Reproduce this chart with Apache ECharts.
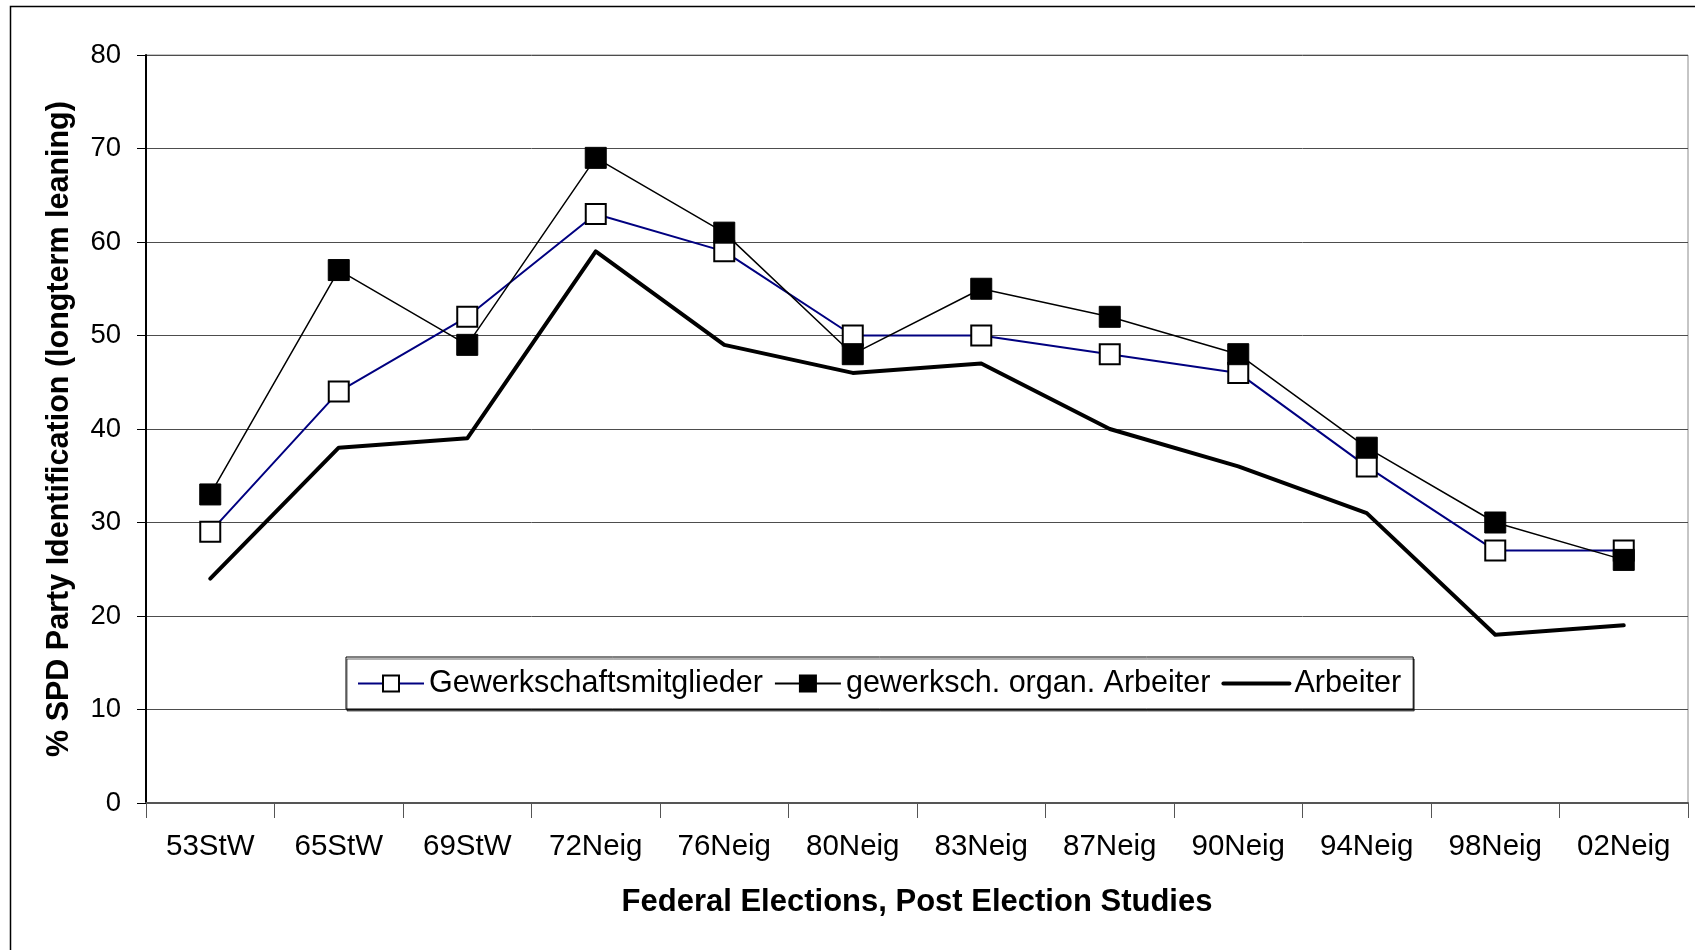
<!DOCTYPE html>
<html>
<head>
<meta charset="utf-8">
<script src="https://cdn.jsdelivr.net/npm/echarts@6/dist/echarts.min.js"></script>
<style>
html,body{margin:0;padding:0;background:#fff;}
#chart{width:1695px;height:950px;}
</style>
</head>
<body>
<div id="chart"></div>
<script>
const categories = ['53StW','65StW','69StW','72Neig','76Neig','80Neig','83Neig','87Neig','90Neig','94Neig','98Neig','02Neig'];
const gewerkschaftsmitglieder = [29,44,52,63,59,50,50,48,46,36,27,27];
const organArbeiter = [33,57,49,69,61,48,55,52,48,38,30,26];
const arbeiter = [24,38,39,59,49,46,47,40,36,31,18,19];
const yTicks = [0,10,20,30,40,50,60,70,80];
const seriesNames = ['Gewerkschaftsmitglieder','gewerksch. organ. Arbeiter','Arbeiter'];
const xTitle = 'Federal Elections, Post Election Studies';
const yTitle = '% SPD Party Identification (longterm leaning)';

const FONT = "'Liberation Sans', Arial, sans-serif";
const chart = echarts.init(document.getElementById('chart'));
chart.setOption({
  animation: false,
  backgroundColor: '#fff',
  textStyle: {fontFamily: FONT, color: '#000'},
  graphic: [{
    type: 'rect', z: -10, silent: true,
    shape: {x: 10.5, y: 6.5, width: 1700, height: 960},
    style: {fill: 'none', stroke: '#000', lineWidth: 1.5}
  }],
  grid: {
    left: 146, right: 7, top: 55, bottom: 147,
    show: true, borderColor: '#8c8c8c', borderWidth: 1, backgroundColor: 'transparent'
  },
  legend: {
    data: [
      {name: seriesNames[0]},
      {name: seriesNames[1]},
      {name: seriesNames[2], itemStyle: {color: 'rgba(0,0,0,0)', borderWidth: 0, opacity: 0}, lineStyle: {width: 4, color: '#000'}}
    ],
    left: 346, top: 657,
    orient: 'horizontal',
    padding: [11, 12, 10, 11],
    itemGap: 11,
    itemWidth: 66, itemHeight: 20,
    backgroundColor: '#fff',
    borderColor: '#000', borderWidth: 1,
    shadowColor: 'rgba(0,0,0,0.6)', shadowBlur: 0, shadowOffsetX: 1, shadowOffsetY: 2,
    textStyle: {fontFamily: FONT, fontSize: 30.5, color: '#000'},
    selectedMode: false
  },
  xAxis: {
    type: 'category',
    data: categories,
    boundaryGap: true,
    name: xTitle,
    nameLocation: 'middle',
    nameGap: 84,
    nameTextStyle: {fontFamily: FONT, fontSize: 31, fontWeight: 'bold', color: '#000'},
    axisLine: {show: true, lineStyle: {color: '#555', width: 2}},
    axisTick: {show: true, alignWithLabel: false, length: 15, inside: false, lineStyle: {color: '#555', width: 1}},
    axisLabel: {fontFamily: FONT, fontSize: 29.5, color: '#000', margin: 29, interval: 0},
    splitLine: {show: false}
  },
  yAxis: {
    type: 'value',
    min: yTicks[0], max: yTicks[yTicks.length - 1], interval: 10,
    name: yTitle,
    nameLocation: 'middle',
    nameRotate: 90,
    nameGap: 71,
    nameTextStyle: {fontFamily: FONT, fontSize: 30.5, fontWeight: 'bold', color: '#000'},
    axisLine: {show: true, lineStyle: {color: '#000', width: 2}},
    axisTick: {show: true, length: 9, inside: false, lineStyle: {color: '#000', width: 1}},
    axisLabel: {fontFamily: FONT, fontSize: 27.5, color: '#000', margin: 25},
    splitLine: {show: true, lineStyle: {color: '#4d4d4d', width: 1}}
  },
  series: [
    {
      name: seriesNames[0], type: 'line', data: gewerkschaftsmitglieder,
      symbol: 'rect', symbolSize: 20, showAllSymbol: true,
      lineStyle: {color: '#000080', width: 2},
      itemStyle: {color: '#fff', borderColor: '#000', borderWidth: 2},
      z: 3
    },
    {
      name: seriesNames[1], type: 'line', data: organArbeiter,
      symbol: 'rect', symbolSize: 21, showAllSymbol: true,
      lineStyle: {color: '#000', width: 1.5},
      itemStyle: {color: '#000', borderColor: '#000', borderWidth: 1},
      z: 4
    },
    {
      name: seriesNames[2], type: 'line', data: arbeiter,
      symbol: 'none', showSymbol: false,
      lineStyle: {color: '#000', width: 4, cap: 'round', join: 'round'},
      itemStyle: {color: '#000'},
      z: 2
    }
  ]
});
</script>
</body>
</html>
